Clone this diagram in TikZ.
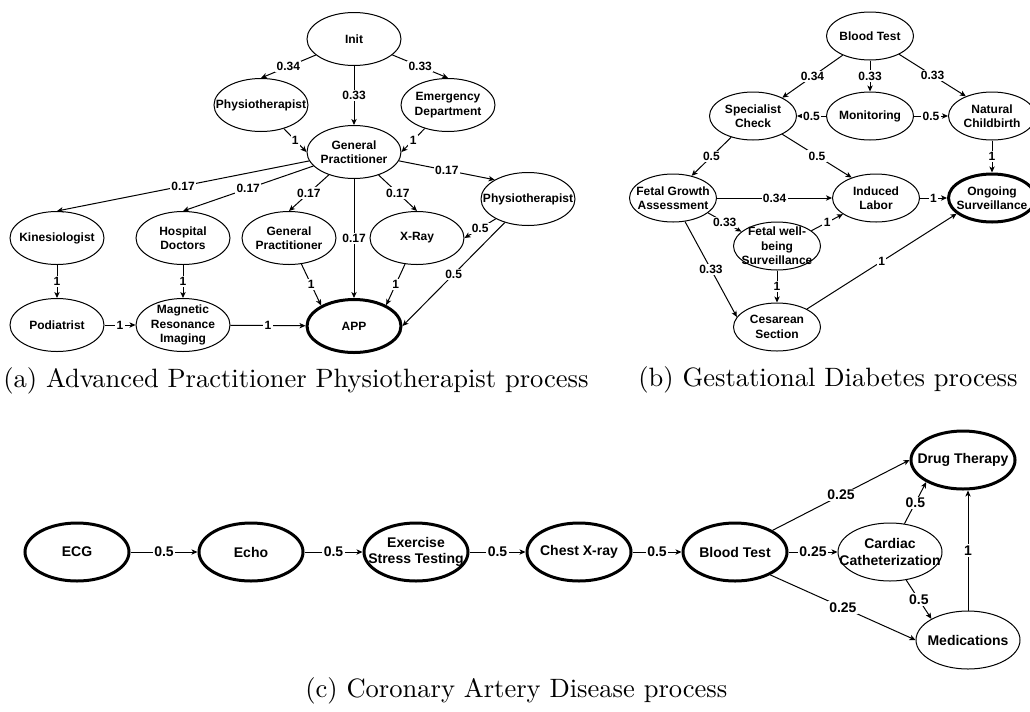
\documentclass[tikz,border=0pt]{standalone}
\usepackage{fontspec}
\setsansfont{Liberation Sans}
\usetikzlibrary{shapes.geometric, arrows.meta}
% caption face: Latin Modern Roman, 10pt design scaled up
\font\capfont="[lmroman10-regular]:mapping=tex-text" at 19.9pt

\begin{document}
\begin{tikzpicture}[
  x=0.75pt, y=-0.75pt,
  st/.style={ellipse, draw, fill=white, line width=0.75pt, inner sep=0pt},
  fin/.style={st, line width=2.25pt},
  sza/.style={minimum width=70.5pt, minimum height=39.75pt},
  szb/.style={minimum width=65.25pt, minimum height=36pt},
  szc/.style={minimum width=78pt, minimum height=43.5pt},
  txt/.style={font=\sffamily\bfseries\fontsize{9}{10.9}\selectfont, align=center, inner sep=0pt},
  txtc/.style={font=\sffamily\bfseries\fontsize{10.5}{12.4}\selectfont, align=center, inner sep=0pt},
  tr/.style={-{Stealth[length=4.5pt,width=4pt,inset=1.2pt]}, line width=0.75pt},
  pr/.style={fill=white, inner sep=1pt, font=\sffamily\bfseries\fontsize{9}{10.9}\selectfont},
  prc/.style={fill=white, inner sep=1pt, font=\sffamily\bfseries\fontsize{10.5}{12.4}\selectfont},
  capt/.style={anchor=base west, inner sep=0pt, font=\capfont}
]
\useasboundingbox (0,0) rectangle (1030,711);
\clip (0,0) rectangle (1030,711);

% ---------- (a) Advanced Practitioner Physiotherapist ----------
\node[st,sza,label={[txt]center:Init}] (init) at (354,39) {};
\node[st,sza,label={[txt]center:Physiotherapist}] (pt1) at (261,105) {};
\node[st,sza,label={[txt]center:{Emergency\\Department}}] (ed) at (448,105) {};
\node[st,sza,label={[txt]center:{General\\Practitioner}}] (gp) at (354,152) {};
\node[st,sza,label={[txt]center:Kinesiologist}] (kin) at (57,238) {};
\node[st,sza,label={[txt]center:{Hospital\\Doctors}}] (hd) at (183,238) {};
\node[st,sza,label={[txt]center:{General\\Practitioner}}] (gp2) at (289,238) {};
\node[st,sza,label={[txt]center:X-Ray}] (xr) at (417,238) {};
\node[st,sza,label={[txt]center:Physiotherapist}] (pt2) at (528,199) {};
\node[st,sza,label={[txt]center:Podiatrist}] (pod) at (57,325) {};
\node[st,sza,label={[txt]center:{Magnetic\\Resonance\\Imaging}}] (mri) at (183,325) {};
\node[fin,sza,label={[txt]center:APP}] (app) at (354,326) {};

\draw[tr] (init) -- node[pr]{0.34} (pt1.north);
\draw[tr] (init) -- node[pr]{0.33} (gp);
\draw[tr] (init) -- node[pr]{0.33} (ed.north);
\draw[tr] (pt1) -- node[pr]{1} (gp.west);
\draw[tr] (ed) -- node[pr]{1} (gp.east);
\draw[tr] (gp) -- node[pr]{0.17} (kin.north);
\draw[tr] (gp) -- node[pr]{0.17} (hd.north);
\draw[tr] (gp) -- node[pr]{0.17} (gp2.north);
\draw[tr] (gp) -- node[pr]{0.17} (app);
\draw[tr] (gp) -- node[pr]{0.17} (xr.north);
\draw[tr] (gp) -- node[pr]{0.17} (pt2.150);
\draw[tr] (pt2) -- node[pr]{0.5} (xr.east);
\draw[tr] (pt2) -- node[pr]{0.5} (app.east);
\draw[tr] (gp2) -- node[pr]{1} (app.148);
\draw[tr] (xr) -- node[pr]{1} (app.33);
\draw[tr] (kin) -- node[pr]{1} (pod);
\draw[tr] (hd) -- node[pr]{1} (mri);
\draw[tr] (pod) -- node[pr]{1} (mri);
\draw[tr] (mri) -- node[pr]{1} (app);

\node[capt] (capa) at (3,387) {(a) Advanced Practitioner Physiotherapist process};

% ---------- (b) Gestational Diabetes ----------
\node[st,szb,label={[txt]center:Blood Test}] (bt) at (870,36) {};
\node[st,szb,label={[txt]center:{Specialist\\Check}}] (sc) at (753,116) {};
\node[st,szb,label={[txt]center:Monitoring}] (mon) at (870,116) {};
\node[st,szb,label={[txt]center:{Natural\\Childbirth}}] (nc) at (992,116) {};
\node[st,szb,label={[txt]center:{Fetal Growth\\Assessment}}] (fga) at (673,198) {};
\node[st,szb,label={[txt]center:{Induced\\Labor}}] (il) at (876,198) {};
\node[fin,szb,label={[txt]center:{Ongoing\\Surveillance}}] (os) at (992,198) {};
\node[st,szb,label={[txt]center:{Fetal well-\\being\\Surveillance}}] (fwb) at (777,246) {};
\node[st,szb,label={[txt]center:{Cesarean\\Section}}] (cs) at (777,327) {};

\draw[tr] (bt) -- node[pr]{0.34} (sc.32);
\draw[tr] (bt) -- node[pr]{0.33} (mon);
\draw[tr] (bt) -- node[pr]{0.33} (nc.143);
\draw[tr] (mon) -- node[pr]{0.5} (sc);
\draw[tr] (mon) -- node[pr]{0.5} (nc);
\draw[tr] (nc) -- node[pr]{1} (os);
\draw[tr] (sc) -- node[pr]{0.5} (fga.50);
\draw[tr] (sc) -- node[pr]{0.5} (il.140);
\draw[tr] (fga) -- node[pr]{0.34} (il);
\draw[tr] (il) -- node[pr]{1} (os);
\draw[tr] (fga.-23) -- node[pr]{0.33} (fwb.158);
\draw[tr] (fwb.24) -- node[pr]{1} (il.206);
\draw[tr] (fga.-63) -- node[pr]{0.33} (cs.166);
\draw[tr] (fwb) -- node[pr]{1} (cs);
\draw[tr] (cs.31) -- node[pr]{1} (os.204);

\node[capt] (capb) at (638,386) {(b) Gestational Diabetes process};

% ---------- (c) Coronary Artery Disease ----------
\node[fin,szc,label={[txtc]center:ECG}] (ecg) at (77,552) {};
\node[fin,szc,label={[txtc]center:Echo}] (echo) at (251,552) {};
\node[fin,szc,label={[txtc]center:{Exercise\\Stress Testing}}] (est) at (416,552) {};
\node[fin,szc,label={[txtc]center:Chest X-ray}] (cxr) at (579,552) {};
\node[fin,szc,label={[txtc]center:Blood Test}] (bt2) at (735,552) {};
\node[st,szc,label={[txtc]center:{Cardiac\\Catheterization}}] (cc) at (890,552) {};
\node[fin,szc,label={[txtc]center:Drug Therapy}] (dt) at (963,460) {};
\node[st,szc,label={[txtc]center:Medications}] (med) at (968,640) {};

\draw[tr] (ecg) -- node[prc]{0.5} (echo);
\draw[tr] (echo) -- node[prc]{0.5} (est);
\draw[tr] (est) -- node[prc]{0.5} (cxr);
\draw[tr] (cxr) -- node[prc]{0.5} (bt2);
\draw[tr] (bt2) -- node[prc]{0.25} (cc);
\draw[tr] (bt2.30) -- node[prc]{0.25} (dt.west);
\draw[tr] (bt2.-33) -- node[prc]{0.25} (med.west);
\draw[tr] (cc.63) -- node[prc]{0.5} (dt.211);
\draw[tr] (cc.-60) -- node[prc]{0.5} (med.150);
\draw[tr] (med) -- node[prc]{1} (med |- dt.south);

\node[capt] (capc) at (305,697) {(c) Coronary Artery Disease process};
\end{tikzpicture}
\end{document}
